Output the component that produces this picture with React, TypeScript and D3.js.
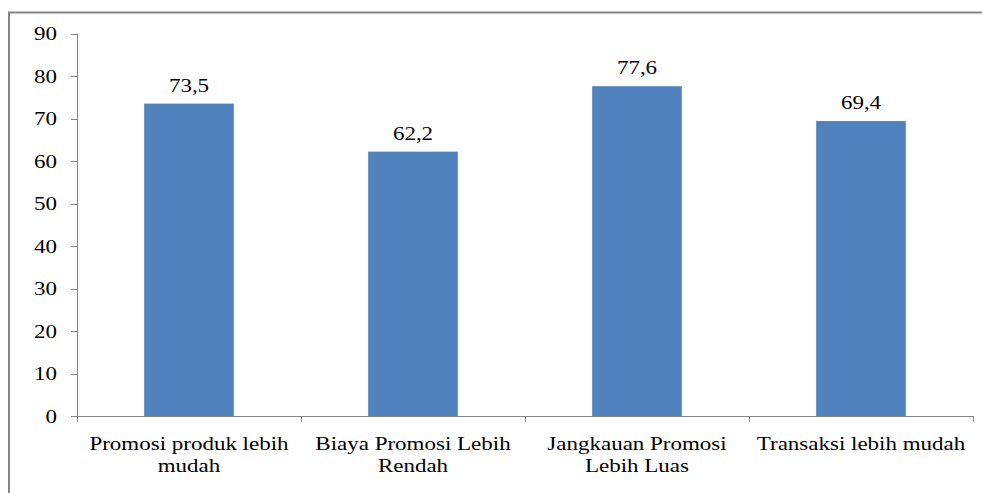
import React from "react";
import * as d3 from "d3";

const categories: string[][] = [
  ["Promosi produk lebih", "mudah"],
  ["Biaya Promosi Lebih", "Rendah"],
  ["Jangkauan Promosi", "Lebih Luas"],
  ["Transaksi lebih mudah"],
];
const values: number[] = [73.5, 62.2, 77.6, 69.4];
const valueLabels: string[] = ["73,5", "62,2", "77,6", "69,4"];
const yTicks: number[] = [0, 10, 20, 30, 40, 50, 60, 70, 80, 90];

const W = 982;
const H = 493;
const left = 77;
const right = 973;
const top = 33.5;
const bottom = 416;
const SX = 1.21;
const FONT = "'Liberation Serif', 'Times New Roman', serif";
const AXIS = "#868686";

export default function App() {
  const keys = categories.map((_, i) => String(i));
  const band = d3.scaleBand<string>().domain(keys).range([left, right]).padding(0);
  const barBand = d3
    .scaleBand<string>()
    .domain(keys)
    .range([left, right])
    .paddingInner(0.6)
    .paddingOuter(0.3);
  const y = d3.scaleLinear().domain([0, 90]).range([bottom, top]);

  const dividers = keys.map((k) => band(k)!).concat([right]);

  return (
    <svg
      width={W}
      height={H}
      style={{ position: "absolute", left: 0, top: 0, background: "#fff" }}
    >
      <rect x={9} y={12.5} width={1000} height={600} fill="#fff" stroke={AXIS} strokeWidth={2} />
      {/* bars */}
      {values.map((v, i) => (
        <rect
          key={"b" + i}
          x={barBand(keys[i])!}
          y={y(v)}
          width={barBand.bandwidth()}
          height={y(0) - y(v)}
          fill="#4F81BD"
        />
      ))}
      {/* y axis */}
      <line x1={left + 0.5} x2={left + 0.5} y1={top} y2={bottom + 6} stroke={AXIS} strokeWidth={1} />
      {yTicks.map((t) => (
        <g key={"t" + t}>
          <line x1={left - 6} x2={left} y1={Math.round(y(t)) + 0.5} y2={Math.round(y(t)) + 0.5} stroke={AXIS} />
          <text
            transform={`translate(${left - 20},${y(t) + 6.5}) scale(${SX},1)`}
            textAnchor="end"
            fontFamily={FONT}
            fontSize={19}
            fill="#000"
          >
            {t}
          </text>
        </g>
      ))}
      {/* x axis */}
      <line x1={left} x2={right} y1={bottom + 0.5} y2={bottom + 0.5} stroke={AXIS} strokeWidth={1} />
      {dividers.map((d, i) => (
        <line key={"d" + i} x1={d + 0.5} x2={d + 0.5} y1={bottom} y2={bottom + 6} stroke={AXIS} />
      ))}
      {/* category labels */}
      {categories.map((lines, i) => (
        <g key={"c" + i}>
          {lines.map((ln, j) => (
            <text
              key={j}
              transform={`translate(${band(keys[i])! + band.bandwidth() / 2},${450 + j * 22}) scale(${SX},1)`}
              textAnchor="middle"
              fontFamily={FONT}
              fontSize={19}
              fill="#000"
            >
              {ln}
            </text>
          ))}
        </g>
      ))}
      {/* value labels */}
      {values.map((v, i) => (
        <text
          key={"v" + i}
          transform={`translate(${barBand(keys[i])! + barBand.bandwidth() / 2},${y(v) - 12}) scale(${SX},1)`}
          textAnchor="middle"
          fontFamily={FONT}
          fontSize={19}
          fill="#000"
        >
          {valueLabels[i]}
        </text>
      ))}
    </svg>
  );
}
